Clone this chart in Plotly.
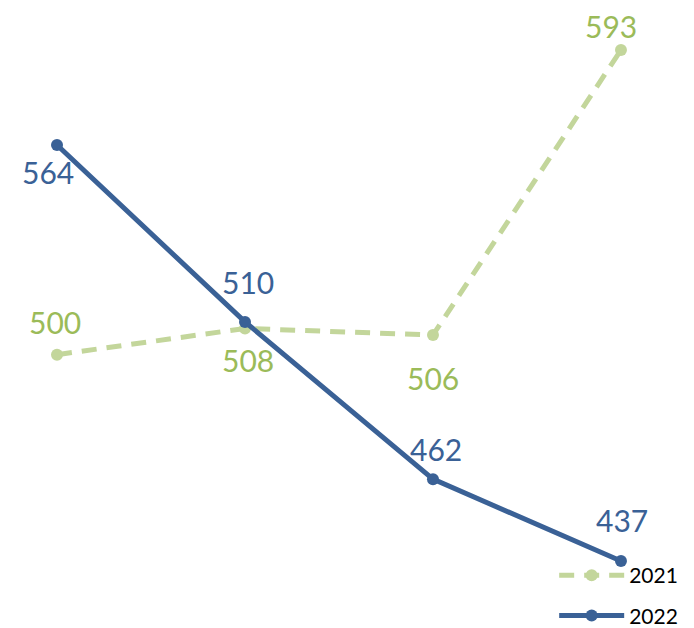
import plotly.graph_objects as go

categories = ["1", "2", "3", "4"]
values_2021 = [500, 508, 506, 593]
values_2022 = [564, 510, 462, 437]

c21_line = "#C3D69B"
c21_text = "#9BBB59"
c22_line = "#3A6196"
c22_text = "#3A6196"

xi = list(range(len(categories)))

fig = go.Figure()
fig.add_trace(go.Scatter(
    x=xi, y=values_2021, name="2021", mode="lines+markers", legendgroup="g21",
    line=dict(color=c21_line, width=5, dash="15px,10px"),
    marker=dict(size=12, color=c21_line),
))
fig.add_trace(go.Scatter(
    x=xi, y=values_2022, name="2022", mode="lines+markers", legendgroup="g22",
    line=dict(color=c22_line, width=5),
    marker=dict(size=12, color=c22_line),
))

# label offsets (pixels) for each point
off21 = [(-2, 33), (3, -32), (0, -43), (-10, 24)]
off22 = [(-9, -27), (3, 40), (3, 30), (1, 41)]
font = "Lato, Open Sans, sans-serif"
for i, v in enumerate(values_2021):
    fig.add_annotation(x=xi[i], y=v, text=str(v), showarrow=False,
                       xshift=off21[i][0], yshift=off21[i][1], borderpad=0,
                       font=dict(family=font, size=30, color=c21_text))
for i, v in enumerate(values_2022):
    fig.add_annotation(x=xi[i], y=v, text=str(v), showarrow=False,
                       xshift=off22[i][0], yshift=off22[i][1], borderpad=0,
                       font=dict(family=font, size=30, color=c22_text))

fig.update_layout(
    width=694, height=628,
    margin=dict(l=0, r=0, t=0, b=0),
    paper_bgcolor="white", plot_bgcolor="white",
    xaxis=dict(range=[-0.2606, 3.431], visible=False, fixedrange=True),
    yaxis=dict(range=[414.12, 605.82], visible=False, fixedrange=True),
    showlegend=True,
    legend=dict(x=0.787, y=0.0, xanchor="left", yanchor="bottom",
                bgcolor="rgba(0,0,0,0)", itemwidth=65,
                font=dict(family=font, size=21, color="black"),
                tracegroupgap=10),
)

fig.write_html("out.html")
